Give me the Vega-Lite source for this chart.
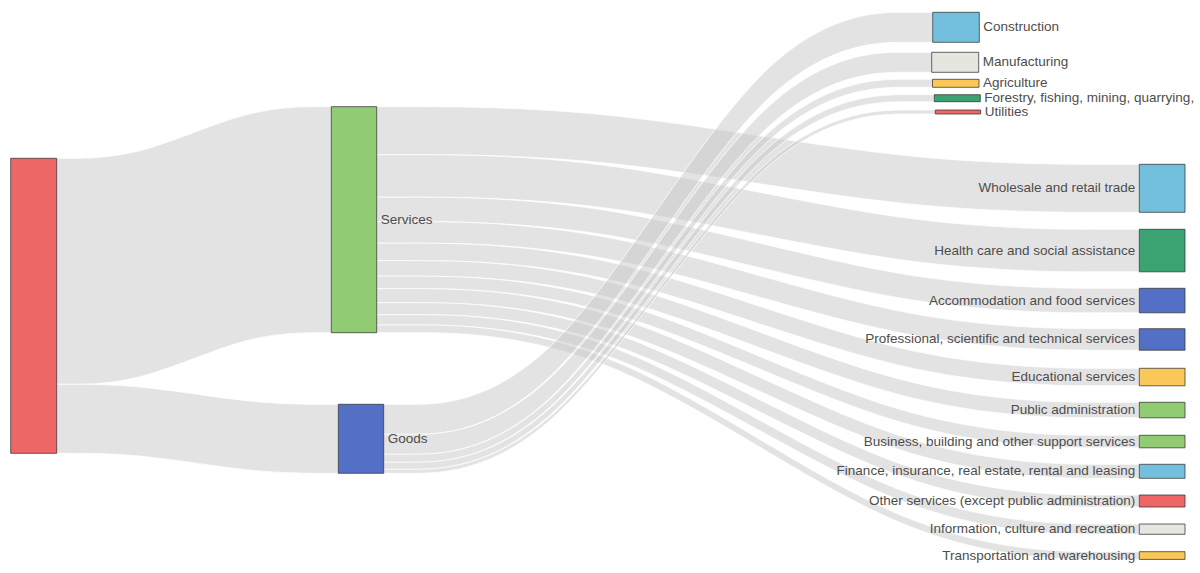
{
  "$schema": "https://vega.github.io/schema/vega-lite/v6.json",
  "width": 1200,
  "height": 573,
  "autosize": {"type": "fit", "contains": "padding"},
  "padding": 0,
  "background": "#ffffff",
  "config": {"view": {"stroke": null}},
  "datasets": {
    "nodes": [
      {"name": "Total", "group": "total", "x0": 10.7, "x1": 56.7, "y0": 158.3, "y1": 453.3},
      {"name": "Services", "group": "sector", "x0": 331.3, "x1": 376.7, "y0": 106.7, "y1": 332.7},
      {"name": "Goods", "group": "sector", "x0": 338.3, "x1": 383.7, "y0": 404.3, "y1": 473.3},
      {"name": "Construction", "group": "goods", "x0": 932.7, "x1": 979.3, "y0": 12.3, "y1": 42.3},
      {"name": "Manufacturing", "group": "goods", "x0": 931.7, "x1": 978.7, "y0": 52.3, "y1": 72.3},
      {"name": "Agriculture", "group": "goods", "x0": 932.5, "x1": 979, "y0": 79.3, "y1": 87.3},
      {"name": "Forestry, fishing, mining, quarrying,", "group": "goods", "x0": 934.3, "x1": 980.3, "y0": 94.7, "y1": 101.7},
      {"name": "Utilities", "group": "goods", "x0": 935.3, "x1": 980.7, "y0": 110, "y1": 114},
      {"name": "Wholesale and retail trade", "group": "services", "x0": 1139.3, "x1": 1185, "y0": 164.3, "y1": 212.3},
      {"name": "Health care and social assistance", "group": "services", "x0": 1139.3, "x1": 1185, "y0": 229.3, "y1": 271.8},
      {"name": "Accommodation and food services", "group": "services", "x0": 1139.3, "x1": 1185, "y0": 288.3, "y1": 312.8},
      {"name": "Professional, scientific and technical services", "group": "services", "x0": 1139.3, "x1": 1185, "y0": 328.7, "y1": 350.2},
      {"name": "Educational services", "group": "services", "x0": 1139.3, "x1": 1185, "y0": 368.3, "y1": 385.8},
      {"name": "Public administration", "group": "services", "x0": 1139.3, "x1": 1185, "y0": 402.3, "y1": 417.8},
      {"name": "Business, building and other support services", "group": "services", "x0": 1139.3, "x1": 1185, "y0": 435.3, "y1": 447.8},
      {"name": "Finance, insurance, real estate, rental and leasing", "group": "services", "x0": 1139.3, "x1": 1185, "y0": 464.3, "y1": 478.3},
      {"name": "Other services (except public administration)", "group": "services", "x0": 1139.3, "x1": 1185, "y0": 495, "y1": 507},
      {"name": "Information, culture and recreation", "group": "services", "x0": 1139.3, "x1": 1185, "y0": 524, "y1": 534.3},
      {"name": "Transportation and warehousing", "group": "services", "x0": 1139.3, "x1": 1185, "y0": 551.7, "y1": 559.4}
    ],
    "links": [
      {"source": "Total", "target": "Services", "value": 226, "xs": [56.7, 139.1, 248.9, 331.3], "top": [158.3, 158.3, 106.7, 106.7], "bot": [384.3, 384.3, 332.7, 332.7]},
      {"source": "Total", "target": "Goods", "value": 69, "xs": [56.7, 141.2, 253.8, 338.3], "top": [384.3, 384.3, 404.3, 404.3], "bot": [453.3, 453.3, 473.3, 473.3]},
      {"source": "Services", "target": "Wholesale and retail trade", "value": 48, "xs": [376.7, 605.5, 910.5, 1139.3], "top": [106.7, 106.7, 164.3, 164.3], "bot": [154.7, 154.7, 212.3, 212.3]},
      {"source": "Services", "target": "Health care and social assistance", "value": 42.5, "xs": [376.7, 605.5, 910.5, 1139.3], "top": [154.7, 154.7, 229.3, 229.3], "bot": [197.2, 197.2, 271.8, 271.8]},
      {"source": "Services", "target": "Accommodation and food services", "value": 24.5, "xs": [376.7, 605.5, 910.5, 1139.3], "top": [197.2, 197.2, 288.3, 288.3], "bot": [221.7, 221.7, 312.8, 312.8]},
      {"source": "Services", "target": "Professional, scientific and technical services", "value": 21.5, "xs": [376.7, 605.5, 910.5, 1139.3], "top": [221.7, 221.7, 328.7, 328.7], "bot": [243.2, 243.2, 350.2, 350.2]},
      {"source": "Services", "target": "Educational services", "value": 17.5, "xs": [376.7, 605.5, 910.5, 1139.3], "top": [243.2, 243.2, 368.3, 368.3], "bot": [260.7, 260.7, 385.8, 385.8]},
      {"source": "Services", "target": "Public administration", "value": 15.5, "xs": [376.7, 605.5, 910.5, 1139.3], "top": [260.7, 260.7, 402.3, 402.3], "bot": [276.2, 276.2, 417.8, 417.8]},
      {"source": "Services", "target": "Business, building and other support services", "value": 12.5, "xs": [376.7, 605.5, 910.5, 1139.3], "top": [276.2, 276.2, 435.3, 435.3], "bot": [288.7, 288.7, 447.8, 447.8]},
      {"source": "Services", "target": "Finance, insurance, real estate, rental and leasing", "value": 14, "xs": [376.7, 605.5, 910.5, 1139.3], "top": [288.7, 288.7, 464.3, 464.3], "bot": [302.7, 302.7, 478.3, 478.3]},
      {"source": "Services", "target": "Other services (except public administration)", "value": 12, "xs": [376.7, 605.5, 910.5, 1139.3], "top": [302.7, 302.7, 495, 495], "bot": [314.7, 314.7, 507, 507]},
      {"source": "Services", "target": "Information, culture and recreation", "value": 10.3, "xs": [376.7, 605.5, 910.5, 1139.3], "top": [314.7, 314.7, 524, 524], "bot": [325, 325, 534.3, 534.3]},
      {"source": "Services", "target": "Transportation and warehousing", "value": 7.7, "xs": [376.7, 605.5, 910.5, 1139.3], "top": [325, 325, 551.7, 551.7], "bot": [332.7, 332.7, 559.4, 559.4]},
      {"source": "Goods", "target": "Construction", "value": 30, "xs": [383.7, 548.5, 768.2, 932.7], "top": [404.3, 404.3, 12.3, 12.3], "bot": [434.3, 434.3, 42.3, 42.3]},
      {"source": "Goods", "target": "Manufacturing", "value": 20, "xs": [383.7, 548.5, 768.2, 931.7], "top": [434.3, 434.3, 52.3, 52.3], "bot": [454.3, 454.3, 72.3, 72.3]},
      {"source": "Goods", "target": "Agriculture", "value": 8, "xs": [383.7, 548.5, 768.2, 932.5], "top": [454.3, 454.3, 79.3, 79.3], "bot": [462.3, 462.3, 87.3, 87.3]},
      {"source": "Goods", "target": "Forestry, fishing, mining, quarrying,", "value": 7, "xs": [383.7, 548.5, 768.2, 934.3], "top": [462.3, 462.3, 94.7, 94.7], "bot": [469.3, 469.3, 101.7, 101.7]},
      {"source": "Goods", "target": "Utilities", "value": 4, "xs": [383.7, 548.5, 768.2, 935.3], "top": [469.3, 469.3, 110, 110], "bot": [473.3, 473.3, 114, 114]}
    ]
  },
  "layer": [
    {
      "data": {"name": "links"},
      "transform": [{"flatten": ["xs", "top", "bot"]}],
      "mark": {"type": "area", "interpolate": "basis", "fill": "#c7c7c7", "fillOpacity": 0.5, "stroke": "#ffffff", "strokeWidth": 0.8, "strokeOpacity": 0.9},
      "encoding": {
        "x": {"field": "xs", "type": "quantitative", "scale": {"domain": [0, 1200], "nice": false, "zero": false}, "axis": null},
        "y": {"field": "top", "type": "quantitative", "stack": null, "scale": {"domain": [0, 573], "nice": false, "zero": false, "reverse": true}, "axis": null},
        "y2": {"field": "bot"},
        "detail": {"field": "target"}
      }
    },
    {
      "data": {"name": "nodes"},
      "mark": {"type": "rect", "stroke": "#333333", "strokeWidth": 1, "strokeOpacity": 0.75},
      "encoding": {
        "x": {"field": "x0", "type": "quantitative"},
        "x2": {"field": "x1"},
        "y": {"field": "y0", "type": "quantitative"},
        "y2": {"field": "y1"},
        "color": {
          "field": "name",
          "type": "nominal",
          "legend": null,
          "scale": {
            "domain": ["Total", "Services", "Goods", "Construction", "Manufacturing", "Agriculture", "Forestry, fishing, mining, quarrying,", "Utilities", "Wholesale and retail trade", "Health care and social assistance", "Accommodation and food services", "Professional, scientific and technical services", "Educational services", "Public administration", "Business, building and other support services", "Finance, insurance, real estate, rental and leasing", "Other services (except public administration)", "Information, culture and recreation", "Transportation and warehousing"],
            "range": ["#ee6666", "#91cc75", "#5470c6", "#73c0de", "#e6e6e1", "#fac858", "#3ba272", "#ee6666", "#73c0de", "#3ba272", "#5470c6", "#5470c6", "#fac858", "#91cc75", "#91cc75", "#73c0de", "#ee6666", "#e6e6e1", "#fac858"]
          }
        }
      }
    },
    {
      "data": {"name": "nodes"},
      "transform": [
        {"filter": "datum.group === 'sector' || datum.group === 'goods'"},
        {"fold": ["y0", "y1"], "as": ["edge", "ypos"]}
      ],
      "mark": {"type": "text", "align": "left", "baseline": "middle", "dx": 4, "font": "Liberation Sans", "fontSize": 13.5, "color": "#4d4d4d"},
      "encoding": {
        "x": {"field": "x1", "type": "quantitative"},
        "y": {"field": "ypos", "type": "quantitative", "aggregate": "mean"},
        "text": {"field": "name", "type": "nominal"}
      }
    },
    {
      "data": {"name": "nodes"},
      "transform": [
        {"filter": "datum.group === 'services'"},
        {"fold": ["y0", "y1"], "as": ["edge", "ypos"]}
      ],
      "mark": {"type": "text", "align": "right", "baseline": "middle", "dx": -4, "font": "Liberation Sans", "fontSize": 13.5, "color": "#4d4d4d"},
      "encoding": {
        "x": {"field": "x0", "type": "quantitative"},
        "y": {"field": "ypos", "type": "quantitative", "aggregate": "mean"},
        "text": {"field": "name", "type": "nominal"}
      }
    }
  ]
}
